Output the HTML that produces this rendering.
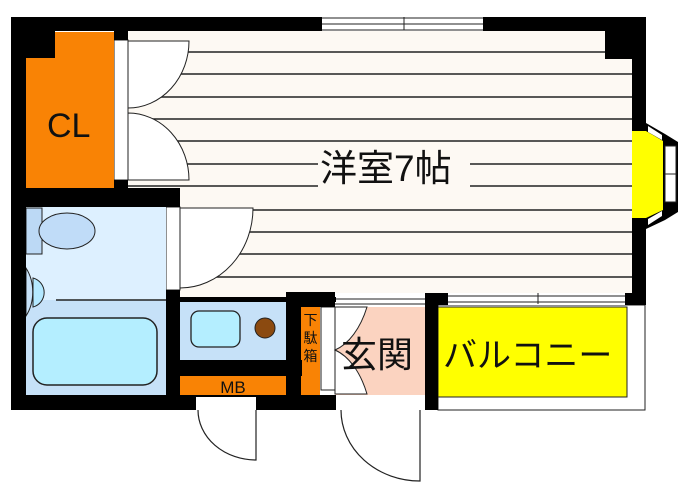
<!DOCTYPE html>
<html><head><meta charset="utf-8"><style>
html,body{margin:0;padding:0;background:#fff;}
svg{display:block;}
text{font-family:"Liberation Sans","Noto Sans CJK JP",sans-serif;fill:#111;}
</style></head><body>
<svg width="700" height="501" viewBox="0 0 700 501" xmlns="http://www.w3.org/2000/svg">
<rect width="700" height="501" fill="#fff"/>
<rect x="128" y="31" width="504" height="266" fill="#fdf9f3"/>
<g stroke="#222" stroke-width="1.6">
<line x1="128" y1="52" x2="632" y2="52"/>
<line x1="128" y1="74" x2="632" y2="74"/>
<line x1="128" y1="97" x2="632" y2="97"/>
<line x1="128" y1="119" x2="632" y2="119"/>
<line x1="128" y1="141" x2="632" y2="141"/>
<line x1="470" y1="164" x2="632" y2="164"/>
<line x1="128" y1="164" x2="318" y2="164"/>
<line x1="470" y1="186" x2="632" y2="186"/>
<line x1="128" y1="186" x2="318" y2="186"/>
<line x1="180" y1="210" x2="632" y2="210"/>
<line x1="180" y1="232" x2="632" y2="232"/>
<line x1="180" y1="254" x2="632" y2="254"/>
<line x1="180" y1="277" x2="632" y2="277"/>
</g>
<rect x="114" y="40" width="14" height="140" fill="#fff" stroke="#222" stroke-width="1"/>
<path d="M128,41 L189,41 A61,67 0 0 1 128,108 Z" fill="#fff" stroke="#222" stroke-width="1"/>
<path d="M128,113 A61,67 0 0 1 189,180 L128,180 Z" fill="#fff" stroke="#222" stroke-width="1"/>
<rect x="166" y="207" width="14" height="83" fill="#fff" stroke="#222" stroke-width="1"/>
<path d="M180,208 L253,208 A73,80 0 0 1 180,288 Z" fill="#fff" stroke="#222" stroke-width="1"/>
<rect x="26" y="32" width="88" height="156" fill="#f98305"/>
<text x="47" y="137" font-size="34">CL</text>
<rect x="26" y="207" width="140" height="188" fill="#ddf0ff"/>
<rect x="26" y="300" width="140" height="95" fill="#c6e1f8"/>
<line x1="56" y1="300" x2="166" y2="300" stroke="#222" stroke-width="1.5"/>
<rect x="26" y="208" width="16" height="46" fill="#bcd9f5" stroke="#222" stroke-width="1"/>
<ellipse cx="67" cy="231" rx="28" ry="18" fill="#c0dcf8" stroke="#222" stroke-width="1"/>
<path d="M26,268 A30,38 0 0 1 26,316 Z" fill="#c6e1f8" stroke="#222" stroke-width="1"/>
<path d="M33,278 A15,15 0 0 1 33,307 Z" fill="#b4e8ff" stroke="#222" stroke-width="1"/>
<rect x="33" y="318" width="124" height="67" rx="14" fill="#b4eeff" stroke="#222" stroke-width="1.5"/>
<rect x="180" y="302" width="106" height="58" fill="#c6e1f8"/>
<rect x="191" y="311" width="49" height="36" rx="8" fill="#b4eeff" stroke="#222" stroke-width="1.3"/>
<circle cx="265" cy="328" r="10" fill="#8b4a10" stroke="#222" stroke-width="1"/>
<rect x="180" y="376" width="106" height="19" fill="#f98305"/>
<text x="233" y="393" font-size="17" text-anchor="middle">MB</text>
<rect x="301" y="307" width="19" height="89" fill="#f98305"/>
<text x="310.5" y="325" font-size="14" text-anchor="middle">下</text>
<text x="310.5" y="343" font-size="14" text-anchor="middle">駄</text>
<text x="310.5" y="361" font-size="14" text-anchor="middle">箱</text>
<rect x="321" y="307" width="14" height="83" fill="#fff" stroke="#222" stroke-width="1"/>
<rect x="335" y="307" width="90" height="88" fill="#fbd3c0"/>
<path d="M335,307 L367,307 A50,85 0 0 1 335,350 A50,85 0 0 1 367,394 L335,394 Z" fill="#fff" stroke="#222" stroke-width="1"/>
<rect x="335" y="293" width="90" height="13" fill="#fff"/>
<line x1="335" y1="299" x2="425" y2="299" stroke="#222" stroke-width="1"/>
<line x1="335" y1="304" x2="425" y2="304" stroke="#222" stroke-width="1"/>
<text x="341" y="367" font-size="36">玄関</text>
<rect x="438" y="305" width="207" height="105" fill="#fff" stroke="#222" stroke-width="1"/>
<rect x="438" y="307" width="189" height="90" fill="#ffff00" stroke="#222" stroke-width="1"/>
<rect x="448" y="293" width="177" height="12" fill="#fff"/>
<line x1="448" y1="296" x2="625" y2="296" stroke="#222" stroke-width="1"/>
<line x1="448" y1="302" x2="625" y2="302" stroke="#222" stroke-width="1"/>
<line x1="538" y1="293" x2="538" y2="304" stroke="#222" stroke-width="1"/>
<text x="443" y="367" font-size="34">バルコニー</text>
<g fill="#000">
<rect x="11" y="17" width="311" height="14"/>
<rect x="483" y="17" width="163" height="14"/>
<rect x="605" y="17" width="41" height="42"/>
<rect x="632" y="17" width="14" height="114"/>
<rect x="632" y="218" width="14" height="84"/>
<rect x="11" y="17" width="15" height="393"/>
<rect x="11" y="17" width="44" height="41"/>
<rect x="114" y="17" width="14" height="23"/>
<rect x="114" y="180" width="14" height="10"/>
<rect x="11" y="188" width="169" height="19"/>
<rect x="166" y="290" width="14" height="120"/>
<rect x="166" y="297" width="170" height="5"/>
<rect x="166" y="360" width="136" height="16"/>
<rect x="286" y="292" width="49" height="15"/>
<rect x="286" y="292" width="15" height="118"/>
<rect x="11" y="395" width="325" height="15"/>
<rect x="425" y="293" width="13" height="117"/>
<rect x="425" y="293" width="23" height="12"/>
<rect x="625" y="293" width="21" height="12"/>
</g>
<rect x="322" y="17" width="161" height="14" fill="#fff"/>
<g stroke="#222" stroke-width="1">
<line x1="322" y1="18" x2="483" y2="18"/>
<line x1="322" y1="24" x2="483" y2="24"/>
<line x1="322" y1="30" x2="483" y2="30"/>
<line x1="404" y1="17" x2="404" y2="30"/>
</g>
<polygon points="632,131 647,131 663,141 663,210 647,218 632,218" fill="#ffff00"/>
<polygon points="646,123 665,134 678,142 678,212 665,220 646,229 646,218 663,210 663,141 646,131" fill="#000"/>
<polygon points="648,126 662,135 662,140 648,132" fill="#fff"/>
<polygon points="648,225 662,216 662,211 648,219" fill="#fff"/>
<rect x="665" y="146" width="11" height="56" fill="#fff" stroke="#222" stroke-width="1"/>
<line x1="665" y1="174" x2="676" y2="174" stroke="#222"/>
<rect x="196" y="397" width="60" height="13" fill="#fff"/>
<path d="M198,410 A58,50 0 0 0 256,460 L256,410" fill="none" stroke="#222" stroke-width="1.2"/>
<rect x="338" y="397" width="82" height="13" fill="#fff"/>
<path d="M341,410 A79,71 0 0 0 420,481 L420,410" fill="none" stroke="#222" stroke-width="1.2"/>
<text x="320" y="181" font-size="37">洋室7帖</text>
</svg>
</body></html>
